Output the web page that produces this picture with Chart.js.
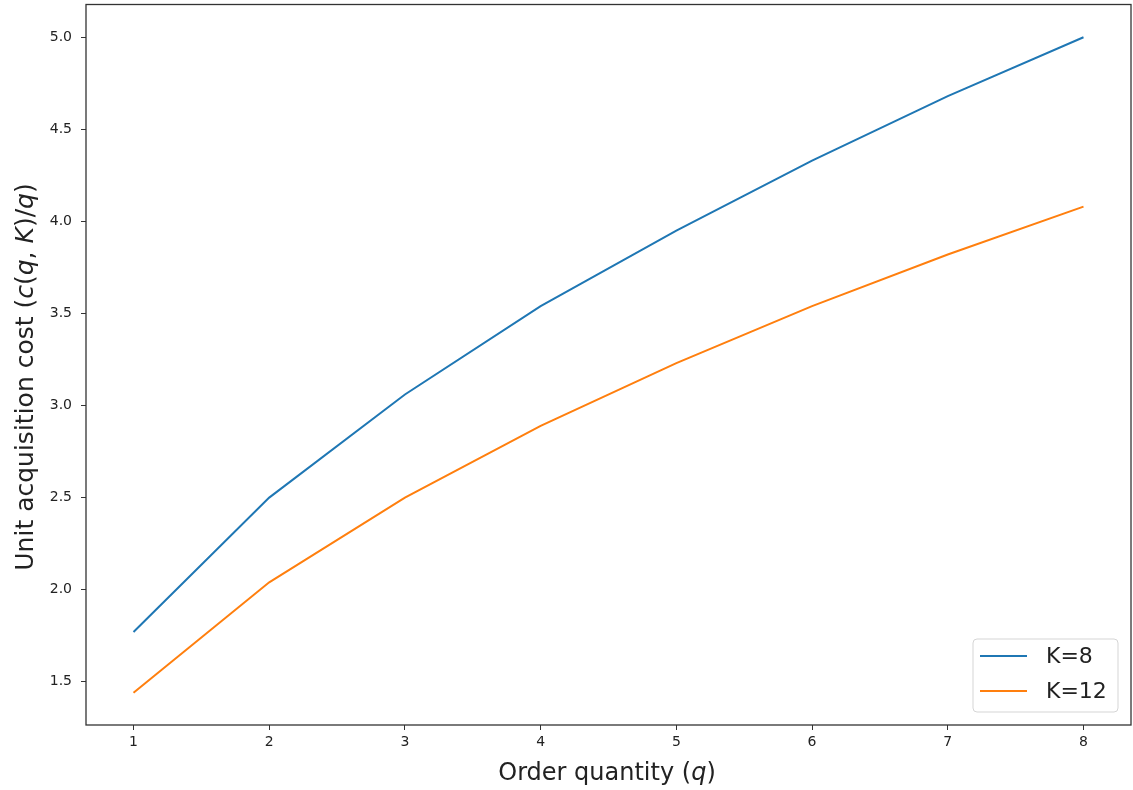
<!DOCTYPE html>
<html>
<head>
<meta charset="utf-8">
<script src="https://cdn.jsdelivr.net/npm/chart.js@4/dist/chart.umd.min.js"></script>
<style>
  html, body { margin: 0; padding: 0; background: #fff; }
  #wrap { width: 1133px; height: 790px; position: relative; }
</style>
</head>
<body>
<div id="wrap"><canvas id="chart"></canvas></div>
<script>
// ── DATA ──
const quantities = [1, 2, 3, 4, 5, 6, 7, 8];
const costK8  = [1.77, 2.50, 3.06, 3.54, 3.95, 4.33, 4.68, 5.00];
const costK12 = [1.44, 2.04, 2.50, 2.89, 3.23, 3.54, 3.82, 4.08];
const seriesLabels = ['K=8', 'K=12'];
const xTicks = [1, 2, 3, 4, 5, 6, 7, 8];
const yTicks = [1.5, 2.0, 2.5, 3.0, 3.5, 4.0, 4.5, 5.0];

const BLUE   = '#1f77b4';
const ORANGE = '#ff7f0e';
const FONT   = "'DejaVu Sans'";
const AXIS_C = '#333';

// mixed roman / italic text, centred on the origin
function drawRich(ctx, parts, size) {
  let w = 0;
  parts.forEach(p => {
    ctx.font = (p.i ? 'italic ' : '') + size + 'px ' + FONT;
    w += ctx.measureText(p.t).width;
  });
  let x = -w / 2;
  parts.forEach(p => {
    ctx.font = (p.i ? 'italic ' : '') + size + 'px ' + FONT;
    ctx.fillText(p.t, x, 0);
    x += ctx.measureText(p.t).width;
  });
}

const frameAndTitles = {
  id: 'frameAndTitles',
  afterDraw(chart) {
    const { ctx, chartArea: a } = chart;
    ctx.save();
    ctx.strokeStyle = AXIS_C;
    ctx.lineWidth = 1.3;
    ctx.strokeRect(a.left, a.top, a.right - a.left, a.bottom - a.top);

    ctx.fillStyle = '#222';
    ctx.textBaseline = 'alphabetic';
    ctx.textAlign = 'left';

    // x title
    ctx.save();
    ctx.translate(607, 780);
    drawRich(ctx, [{ t: 'Order quantity (' }, { t: 'q', i: true }, { t: ')' }], 24);
    ctx.restore();

    // y title
    ctx.save();
    ctx.translate(33, 377);
    ctx.rotate(-Math.PI / 2);
    drawRich(ctx, [
      { t: 'Unit acquisition cost (' }, { t: 'c', i: true }, { t: '(' },
      { t: 'q', i: true }, { t: ', ' }, { t: 'K', i: true }, { t: ')/' },
      { t: 'q', i: true }, { t: ')' }
    ], 25);
    ctx.restore();

    // legend, lower right inside the axes
    const ds = chart.data.datasets;
    const bx = 973, by = 639, bw = 145, bh = 73;
    ctx.fillStyle = 'rgba(255,255,255,0.8)';
    ctx.strokeStyle = '#d5d5d5';
    ctx.lineWidth = 1;
    ctx.beginPath();
    ctx.roundRect(bx, by, bw, bh, 4);
    ctx.fill();
    ctx.stroke();
    ctx.textBaseline = 'middle';
    ds.forEach((d, i) => {
      const y = by + 17 + i * 35;
      ctx.strokeStyle = d.borderColor;
      ctx.lineWidth = 2;
      ctx.beginPath();
      ctx.moveTo(bx + 7, y);
      ctx.lineTo(bx + 54, y);
      ctx.stroke();
      ctx.fillStyle = '#222';
      ctx.font = '22px ' + FONT;
      ctx.fillText(d.label, bx + 73, y + 1);
    });
    ctx.restore();
  }
};

const tickCfg = { color: '#222', font: { family: FONT, size: 14 } };

new Chart(document.getElementById('chart'), {
  type: 'line',
  data: {
    datasets: [
      { label: seriesLabels[0], data: quantities.map((q, i) => ({ x: q, y: costK8[i] })),
        borderColor: BLUE, borderWidth: 2, pointRadius: 0, fill: false, tension: 0 },
      { label: seriesLabels[1], data: quantities.map((q, i) => ({ x: q, y: costK12[i] })),
        borderColor: ORANGE, borderWidth: 2, pointRadius: 0, fill: false, tension: 0 },
    ],
  },
  options: {
    responsive: true,
    maintainAspectRatio: false,
    animation: false,
    layout: { padding: { top: 4.5, right: 2, left: 0, bottom: 0 } },
    plugins: { legend: { display: false }, tooltip: { enabled: false } },
    scales: {
      x: {
        type: 'linear', min: 0.65, max: 8.35,
        afterBuildTicks: s => { s.ticks = xTicks.map(v => ({ value: v })); },
        afterFit: s => { s.height = 65; s.paddingLeft = 0; s.paddingRight = 0; },
        ticks: { ...tickCfg, padding: 4, maxRotation: 0, callback: v => String(v) },
        grid: { display: true, drawOnChartArea: false, drawTicks: true, tickLength: 5, color: AXIS_C },
        border: { display: false },
      },
      y: {
        type: 'linear', min: 1.265, max: 5.178,
        afterBuildTicks: s => { s.ticks = yTicks.map(v => ({ value: v })); },
        afterFit: s => { s.width = 86; s.paddingTop = 0; s.paddingBottom = 0; },
        ticks: { ...tickCfg, padding: 9, callback: v => v.toFixed(1) },
        grid: { display: true, drawOnChartArea: false, drawTicks: true, tickLength: 5, color: AXIS_C },
        border: { display: false },
      },
    },
  },
  plugins: [frameAndTitles],
});
</script>
</body>
</html>
